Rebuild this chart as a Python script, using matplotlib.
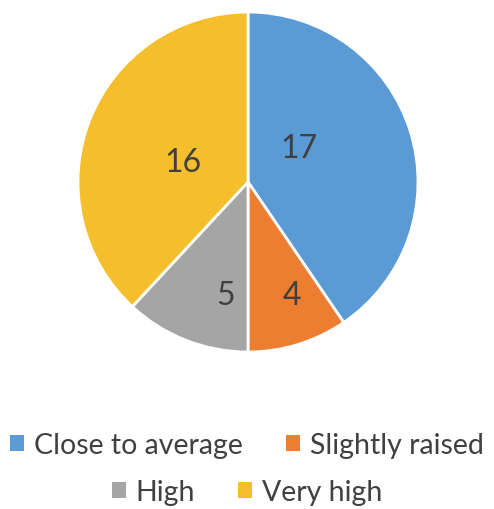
import matplotlib.pyplot as plt
from matplotlib.patches import Patch
import numpy as np

plt.rcParams['font.family'] = ['Lato', 'DejaVu Sans']

categories = ["Close to average", "Slightly raised", "High", "Very high"]
values = [17, 4, 5, 16]
colors = ["#5B9BD5", "#ED7D31", "#A5A5A5", "#F4BE2C"]
# label placement (fraction of radius, angle shift in degrees)
label_r = [0.36, 0.71, 0.68, 0.40]
label_shift = [17, 4, 10, 4]

fig = plt.figure(figsize=(4.94, 5.10), dpi=100)
ax = fig.add_axes([78/494, 1-353/510, 340/494, 340/510])
wedges, _ = ax.pie(values, colors=colors, startangle=90, counterclock=False,
                   radius=1, wedgeprops=dict(edgecolor="white", linewidth=2))
ax.set_xlim(-1, 1)
ax.set_ylim(-1, 1)
ax.set_aspect("equal")

for w, v, rr, sh in zip(wedges, values, label_r, label_shift):
    ang = np.deg2rad((w.theta1 + w.theta2) / 2 + sh)
    ax.text(rr*np.cos(ang), rr*np.sin(ang), str(v), ha="center", va="center",
            fontsize=23, color="#404040")

handles = [Patch(facecolor=c, edgecolor="none") for c in colors]
kw = dict(loc="center", frameon=False, fontsize=20.5, labelcolor="#404040",
          handlelength=0.5, handleheight=0.5, handletextpad=0.35, columnspacing=1.5)
fig.legend(handles[:2], categories[:2], ncol=2, bbox_to_anchor=(0.5, 1-446/510), **kw)
fig.legend(handles[2:], categories[2:], ncol=2, bbox_to_anchor=(0.5, 1-493/510), **kw)

fig.savefig("out.png", dpi=100)
